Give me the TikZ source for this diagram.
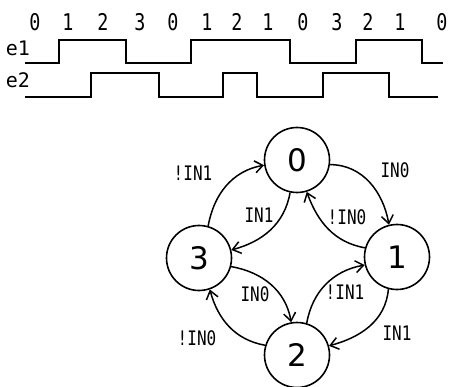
\documentclass[tikz,border=0pt]{standalone}
\usepackage{fontspec}
\usetikzlibrary{arrows.meta}
\newfontfamily\monofont{DejaVu Sans Mono}
\newfontfamily\statefont{DejaVu Sans}
\newcommand{\narrow}[1]{\scalebox{0.8}[1]{#1}}
\begin{document}
\begin{tikzpicture}[x=1pt,y=1pt,
  wave/.style={line width=1.8pt},
  digit/.style={font=\monofont\fontsize{23}{23}\selectfont, inner sep=0pt},
  sig/.style={font=\monofont\fontsize{20}{20}\selectfont, inner sep=0pt},
  state/.style={circle, draw, line width=1.6pt, minimum size=65pt, inner sep=0pt,
    font=\statefont\fontsize{31}{31}\selectfont},
  edge/.style={line width=1.5pt, -{Straight Barb[length=8pt,width=12pt,line width=1.5pt]}},
  lbl/.style={font=\monofont\fontsize{20}{20}\selectfont, inner sep=0pt}]
\useasboundingbox (0,0) rectangle (449,-387);

% sequence of states above the waveforms
\foreach \x/\d [count=\i from 0] in {35/0,68/1,103/2,140/3,173/0,207/1,237/2,268/1,303/0,337/3,368/2,400/1,442/0}
  \node[digit] (d\i) at (\x,-22) {\narrow{\d}};

% signal names
\node[sig] (e1) at (18,-48) {e1};
\node[sig] (e2) at (18,-80) {e2};

% waveform e1
\draw[wave] (25,-63) -- (59,-63) -- (59,-40) -- (126,-40) -- (126,-63) -- (191,-63)
  -- (191,-40) -- (290,-40) -- (290,-63) -- (356,-63) -- (356,-40) -- (422,-40)
  -- (422,-63) -- (443,-63);
% waveform e2
\draw[wave] (25,-97) -- (91,-97) -- (91,-73) -- (159,-73) -- (159,-97) -- (223,-97)
  -- (223,-73) -- (257,-73) -- (257,-97) -- (323,-97) -- (323,-73) -- (389,-73)
  -- (389,-97) -- (438,-97);

% state machine
\node[state] (n0) at (297,-160) {0};
\node[state] (n1) at (397,-257) {1};
\node[state] (n2) at (297,-355) {2};
\node[state] (n3) at (199,-258) {3};

\draw[edge] (n0.-8)   to[out=0,in=100]    (n1.104);
\draw[edge] (n1.164)  to[out=170,in=-70]  (n0.-73);
\draw[edge] (n0.258)  to[out=-100,in=15]  (n3.14);
\draw[edge] (n3.74)   to[out=80,in=190]   (n0.189);
\draw[edge] (n3.-15)  to[out=-10,in=100]  (n2.100);
\draw[edge] (n2.163)  to[out=170,in=-75]  (n3.-71);
\draw[edge] (n1.-105) to[out=-95,in=15]   (n2.16);
\draw[edge] (n2.73)   to[out=80,in=190]   (n1.194);

% transition conditions
\node[lbl] (l01) at (395,-170) {\narrow{IN0}};
\node[lbl] (l10) at (347,-217) {\narrow{!IN0}};
\node[lbl] (l03) at (259,-215) {\narrow{IN1}};
\node[lbl] (l30) at (193,-173) {\narrow{!IN1}};
\node[lbl] (l32) at (255,-294) {\narrow{IN0}};
\node[lbl] (l23) at (197,-338) {\narrow{!IN0}};
\node[lbl] (l12) at (397,-333) {\narrow{IN1}};
\node[lbl] (l21) at (345,-292) {\narrow{!IN1}};
\end{tikzpicture}
\end{document}
